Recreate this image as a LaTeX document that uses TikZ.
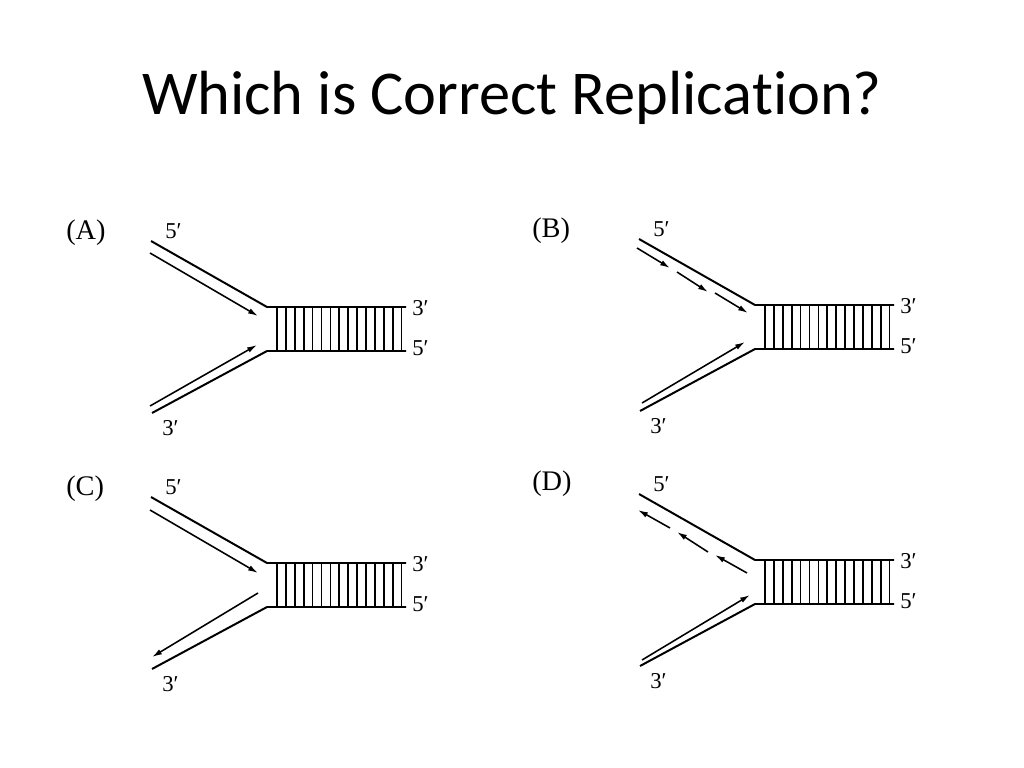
\documentclass[tikz,border=0pt]{standalone}
\usepackage{fontspec}
\setmainfont{Liberation Serif}
\newfontfamily\titlefont[Ligatures={NoCommon,NoRequired,NoContextual}]{Carlito}
\usepackage{tikz}
\usetikzlibrary{positioning}
\usetikzlibrary{arrows.meta}
\tikzset{
    template/.style={line width=1.4pt},
    rung/.style={line width=1.2pt},
    newStrand/.style={line width=1.1pt,-{Latex[length=7pt,width=4pt]}},
    primeLabel/.style={font=\fontsize{16}{16}\selectfont, anchor=base west, inner sep=0pt},
    panelLabel/.style={font=\fontsize{20}{20}\selectfont, anchor=base west, inner sep=0pt}
}
\tikzset{
    fork/.pic={
		\draw[template] (-116,-88) -- (0,-22) -- (139,-22);
		\draw[template] (-115,84) -- (0,22) -- (139,22);
		\foreach \i in {0,...,14}
			\draw[rung] (10+\i*8.9,-22) -- (10+\i*8.9,22);
		\node[primeLabel] at (-102,-91) {5′};
		\node[primeLabel] at (-105,106) {3′};
		\node[primeLabel] at (145,-14) {3′};
		\node[primeLabel] at (145,26) {5′};
	}
}
\begin{document}
\begin{tikzpicture}[x=0.0248cm,y=-0.0248cm]
			\useasboundingbox (0,0) rectangle (1024,768);
			\node[font=\titlefont\fontsize{44}{44}\selectfont, anchor=base] (title) at (512,115) {Which is Correct Replication?};
			% the four forks
			\pic at(267,329) {fork};
			\pic at(755,327) {fork};
			\pic at(267,585) {fork};
			\pic at(755,582) {fork};
			\node[panelLabel] (labA) at (66,239) {(A)};
			\node[panelLabel] (labB) at (532,237) {(B)};
			\node[panelLabel] (labC) at (66,495) {(C)};
			\node[panelLabel] (labD) at (532,490) {(D)};
			% (A)
			\draw[newStrand] (150,253) -- (258,316);
			\draw[newStrand] (150,406) -- (257,345);
			% (B)
			\draw[newStrand] (637,248) -- (670,268);
			\draw[newStrand] (677,272) -- (708,292);
			\draw[newStrand] (715,293) -- (748,313);
			\draw[newStrand] (642,403) -- (745,342);
			% (C)
			\draw[newStrand] (150,510) -- (258,573);
			\draw[newStrand] (258,593) -- (152,657);
			% (D)
			\draw[newStrand] (670,528) -- (638,510);
			\draw[newStrand] (708,552) -- (677,532);
			\draw[newStrand] (747,573) -- (715,555);
			\draw[newStrand] (642,660) -- (750,595);
\end{tikzpicture}
\end{document}
